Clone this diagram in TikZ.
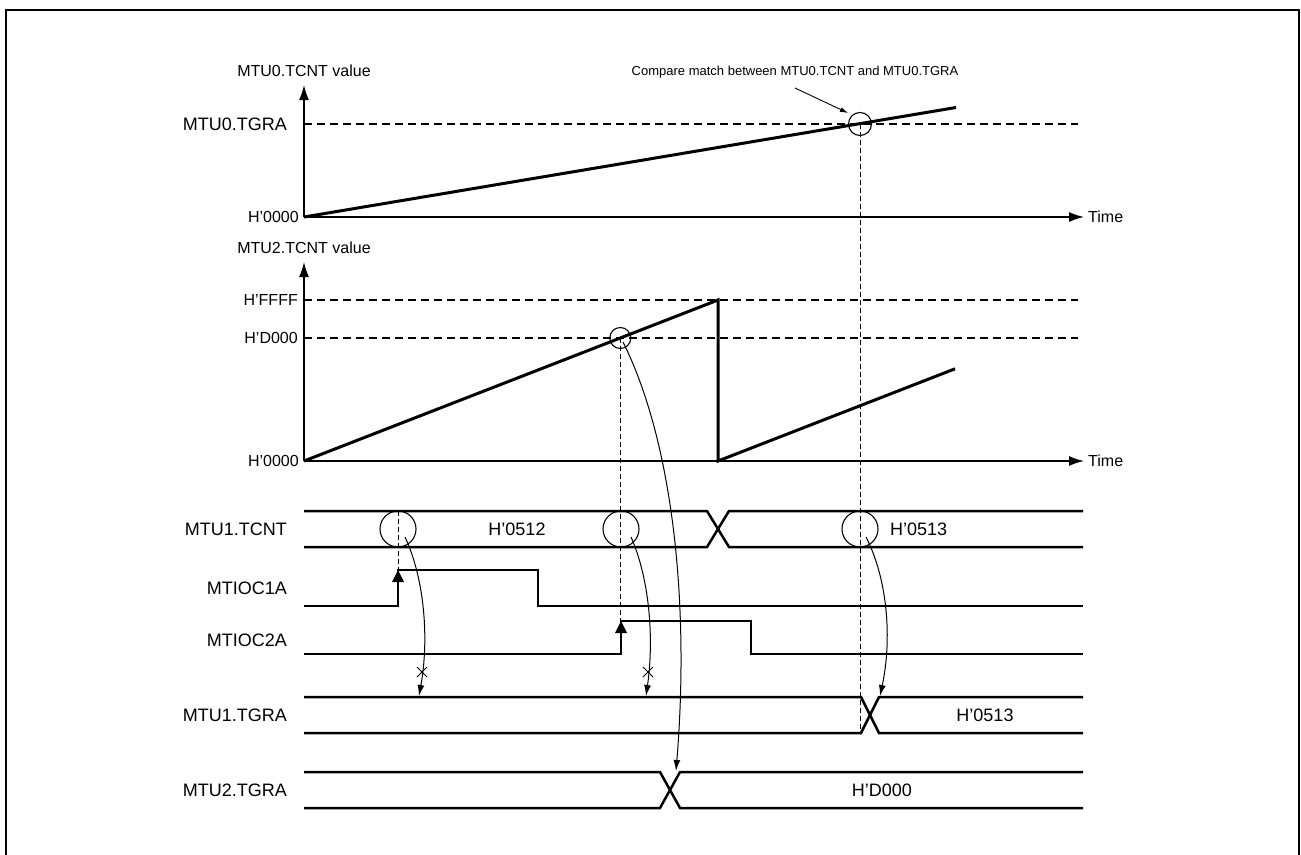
\documentclass[tikz,border=0pt]{standalone}
\usepackage{fontspec}
\setmainfont{Liberation Sans}
\usetikzlibrary{arrows.meta}
\begin{document}
\begin{tikzpicture}[x=1pt,y=-1pt,
  sig/.style={line width=2.5pt},
  axis/.style={line width=1.5pt},
  ramp/.style={line width=3pt},
  guide/.style={line width=1.1pt, dash pattern=on 8pt off 5pt},
  vguide/.style={line width=0.9pt, dash pattern=on 5pt off 3pt},
  ring/.style={circle, draw, line width=1.1pt, inner sep=0pt},
  lbl/.style={font=\fontsize{18}{21}\selectfont, anchor=east, inner sep=0pt},
  val/.style={font=\fontsize{16}{19}\selectfont, inner sep=0pt},
  busval/.style={font=\fontsize{18}{21}\selectfont, inner sep=0pt},
  conn/.style={line width=1pt, -{Latex[length=11pt,width=7pt]}},
  axarrow/.style={-{Latex[length=15pt,width=10pt]}},
  xmark/.style={line width=1pt},
  ]
\useasboundingbox (0,0) rectangle (1301,854);
% frame
\draw[line width=2.5pt] (6,880) -- (6,10) -- (1299,10) -- (1299,880);

% ---------------- top chart ----------------
\coordinate (o0) at (304,217);
\coordinate (y0) at (304,85);
\coordinate (t0) at (1084,217);
\draw[axis,axarrow] (o0) -- (y0);
\draw[axis,axarrow] (o0) -- (t0);
\node[val] (y0lbl) at (304,71) {MTU0.TCNT value};
\node[val,anchor=west] (t0lbl) at (1088,217) {Time};
\node[val,anchor=east] (z0lbl) at (299,217) {H’0000};
\node[lbl] (tgra0lbl) at (287,124) {MTU0.TGRA};
\coordinate (g0a) at (304,124);
\coordinate (g0b) at (1078,124);
\draw[guide] (g0a) -- (g0b);
\coordinate (r0end) at (956,107.5);
\draw[ramp] (o0) -- (r0end);
\node[ring, minimum size=23pt] (cm0) at (860,124) {};
\node[font=\fontsize{13}{16}\selectfont, inner sep=0pt] (cmlbl) at (795,72) {Compare match between MTU0.TCNT and MTU0.TGRA};
\coordinate (cma) at (795,88);
\coordinate (cmb) at (848,113);
\draw[line width=0.9pt, -{Latex[length=8pt,width=5pt]}] (cma) -- (cmb);
\coordinate (v0end) at (860,733);
\draw[vguide] (cm0.center) -- (v0end);

% ---------------- second chart ----------------
\coordinate (o2) at (304,461);
\coordinate (y2) at (304,262);
\coordinate (t2) at (1084,461);
\draw[axis,axarrow] (o2) -- (y2);
\draw[axis,axarrow] (o2) -- (t2);
\node[val] (y2lbl) at (304,248) {MTU2.TCNT value};
\node[val,anchor=west] (t2lbl) at (1088,461) {Time};
\node[val,anchor=east] (z2lbl) at (299,461) {H’0000};
\node[val,anchor=east] (f2lbl) at (298,300) {H’FFFF};
\node[val,anchor=east] (d2lbl) at (298,338) {H’D000};
\coordinate (gfa) at (304,300);
\coordinate (gfb) at (1078,300);
\coordinate (gda) at (304,338);
\coordinate (gdb) at (1078,338);
\draw[guide] (gfa) -- (gfb);
\draw[guide] (gda) -- (gdb);
\coordinate (rtop) at (718,300);
\coordinate (rbot) at (718,461);
\coordinate (r2end) at (955,368.8);
\draw[ramp, line join=miter] (o2) -- (rtop) -- (rbot) -- (r2end);
\node[ring, minimum size=21pt] (cm2) at (620.3,338) {};
\coordinate (v2end) at (620.3,621);
\draw[vguide] (cm2.center) -- (v2end);

% ---------------- MTU1.TCNT bus ----------------
\node[lbl] (tcntlbl) at (287,529) {MTU1.TCNT};
\draw[sig] (304,511) -- (707,511) -- (729,547) -- (1083,547);
\draw[sig] (304,547) -- (707,547) -- (729,511) -- (1083,511);
\node[busval] (v512) at (517,529) {H’0512};
\node[busval, anchor=west] (v513a) at (890,529) {H’0513};
\node[ring, minimum size=36pt] (c1) at (398,529) {};
\node[ring, minimum size=36pt] (c2) at (621,529) {};
\node[ring, minimum size=36pt] (c3) at (860,529) {};
\coordinate (v1top) at (398,511);
\coordinate (v1end) at (398,570);
\draw[vguide] (v1top) -- (v1end);

% ---------------- MTIOC1A ----------------
\node[lbl] (oc1lbl) at (287,588) {MTIOC1A};
\draw[sig, line join=miter] (304,606) -- (398,606) -- (398,570) -- (538,570) -- (538,606) -- (1083,606);
\fill (398,570) -- (392,582) -- (404,582) -- cycle;

% ---------------- MTIOC2A ----------------
\node[lbl] (oc2lbl) at (287,640) {MTIOC2A};
\draw[sig, line join=miter] (304,654) -- (621,654) -- (621,621) -- (751,621) -- (751,654) -- (1083,654);
\fill (621,621) -- (615,633) -- (627,633) -- cycle;

% ---------------- MTU1.TGRA bus ----------------
\node[lbl] (tg1lbl) at (287,715) {MTU1.TGRA};
\draw[sig] (304,697) -- (861,697) -- (879,733) -- (1083,733);
\draw[sig] (304,733) -- (861,733) -- (879,697) -- (1083,697);
\node[busval] (v513b) at (985,715) {H’0513};

% ---------------- MTU2.TGRA bus ----------------
\node[lbl] (tg2lbl) at (287,790) {MTU2.TGRA};
\draw[sig] (304,772) -- (660,772) -- (680,808) -- (1083,808);
\draw[sig] (304,808) -- (660,808) -- (680,772) -- (1083,772);
\node[busval] (vd000) at (882,790) {H’D000};

% ---------------- curved connectors ----------------
\coordinate (a1s) at (405,537);
\coordinate (a1e) at (419,696);
\draw[conn] (a1s) .. controls (425,580) and (429,640) .. (a1e);
\coordinate (a2s) at (631,537);
\coordinate (a2e) at (646,696);
\draw[conn] (a2s) .. controls (650,580) and (654,640) .. (a2e);
\coordinate (a3s) at (866,537);
\coordinate (a3e) at (880,696);
\draw[conn] (a3s) .. controls (888,580) and (892,640) .. (a3e);
\coordinate (a4s) at (623,342);
\coordinate (a4e) at (676,771);
\draw[conn] (a4s) .. controls (672,440) and (690,600) .. (a4e);

% crosses
\coordinate (x1) at (422,672);
\coordinate (x2) at (648,672);
\draw[xmark] ([shift={(-5,-5)}]x1) -- ([shift={(5,5)}]x1) ([shift={(-5,5)}]x1) -- ([shift={(5,-5)}]x1);
\draw[xmark] ([shift={(-5,-5)}]x2) -- ([shift={(5,5)}]x2) ([shift={(-5,5)}]x2) -- ([shift={(5,-5)}]x2);
\end{tikzpicture}
\end{document}
